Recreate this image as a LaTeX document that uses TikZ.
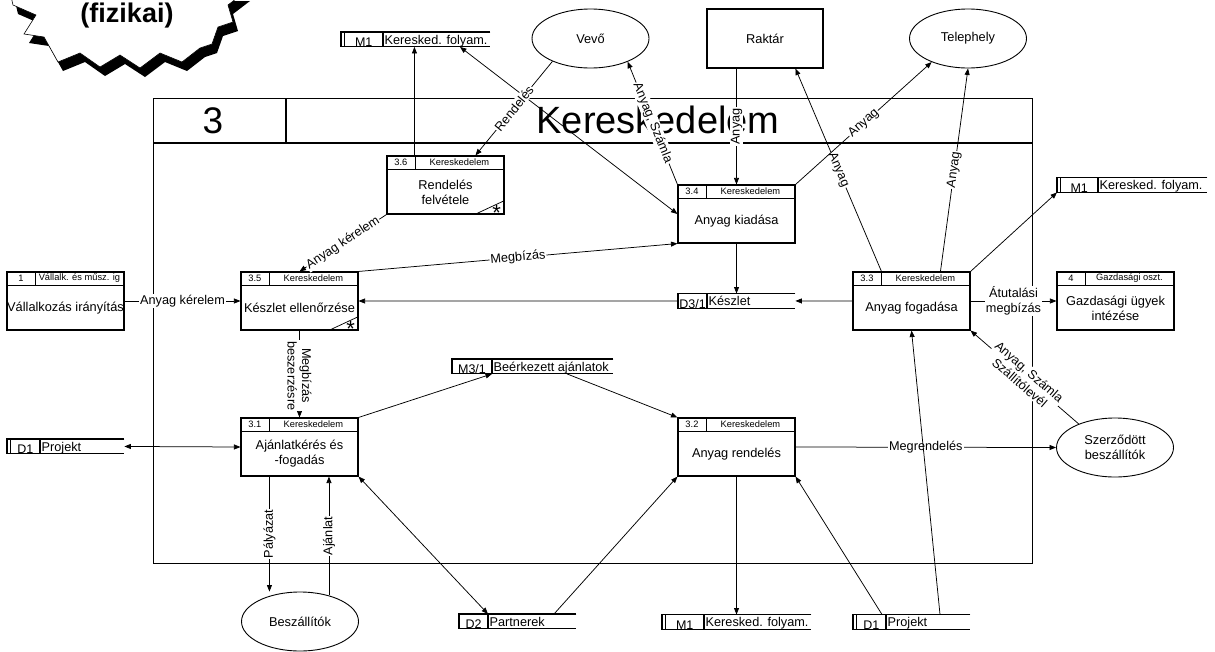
\documentclass[tikz,border=0pt]{standalone}
\usepackage{fontspec}
\setmainfont{Liberation Sans}
\usetikzlibrary{arrows.meta,calc,shapes.geometric}

% process box: name, left x, top y, id, department, body text
\newcommand\procbox[6]{%
  \node[procframe] (#1) at (#2+58.5,#3+29) {};
  \draw[boxline] ($(#1.north west)+(0,14)$) -- ($(#1.north east)+(0,14)$);
  \draw[boxline] ($(#1.north west)+(29,0)$) -- ($(#1.north west)+(29,14)$);
  \node[small] at ($(#1.north west)+(14.5,7)$) {#4};
  \node[small] at ($(#1.north west)+(73,7)$) {#5};
  \node[body] (#1t) at ($(#1.center)+(0,7)$) {#6};
}
% cut corner with asterisk
\newcommand\starcorner[1]{%
  \draw[flow] ($(#1.south east)+(-30,0)$) -- ($(#1.south east)+(0,-14)$);
  \node[font=\fontsize{22}{22}\selectfont, anchor=base, inner sep=0pt] at ($(#1.south east)+(-8,6)$) {*};
}
% data store: name, left x, top y, width, id cell width, id, label, double left edge (1/0)
\newcommand\store[8]{%
  \node[inner sep=0pt, minimum width=#4pt, minimum height=14.5pt, anchor=north west] (#1) at (#2,#3) {};
  \draw[boxline] (#1.north east) -- (#1.north west) -- (#1.south west) -- (#1.south east);
  \draw[boxline] ($(#1.north west)+(#5,0)$) -- ($(#1.south west)+(#5,0)$);
  \ifnum#8=1 \draw[boxline] ($(#1.north west)+(3.5,0)$) -- ($(#1.south west)+(3.5,0)$);\fi
  \node[anchor=base, inner sep=0pt, font=\fontsize{12.5}{14}\selectfont] at ($(#1.south west)+({(#5+3.5*#8)/2},-0.3)$) {#6};
  \node[anchor=base west, inner sep=0pt, font=\fontsize{12.7}{14}\selectfont] at ($(#1.south west)+(#5+1.5,-2.8)$) {#7};
}

\begin{document}
\begin{tikzpicture}[x=1pt,y=-1pt,
  boxline/.style={line width=1.1pt},
  flow/.style={line width=0.75pt},
  >={Triangle[length=6.5pt,width=5pt]},
  procframe/.style={draw, line width=1.1pt, minimum width=117pt, minimum height=58pt, inner sep=0pt},
  small/.style={font=\fontsize{9.3}{10}\selectfont, inner sep=0pt},
  body/.style={font=\fontsize{12.8}{15}\selectfont, align=center, inner sep=0pt},
  lbl/.style={fill=white, inner sep=1pt, font=\fontsize{12.7}{14.5}\selectfont, align=center},
  ent/.style={draw, ellipse, line width=0.9pt, minimum width=117pt, minimum height=59pt, inner sep=0pt, font=\fontsize{12.8}{15}\selectfont, align=center},
]
\useasboundingbox (0,0) rectangle (1215,651);
\clip (0,0) rectangle (1215,651);
\fill[white] (0,0) rectangle (1215,651);

% starburst title badge
\fill[black, shift={(5,9)}] (10,-8) -- (13,5) -- (36,15) -- (24,34) -- (44,37) -- (58,62) -- (80,53) -- (100,67)
  -- (120,55) -- (140,68) -- (160,53) -- (182,62) -- (200,48) -- (212,44) -- (218,27) -- (233,22) -- (228,5) -- (245,-8) -- cycle;
\filldraw[fill=white, draw=black, line width=0.6pt] (10,-8) -- (13,5) -- (36,15) -- (24,34) -- (44,37) -- (58,62) -- (80,53) -- (100,67)
  -- (120,55) -- (140,68) -- (160,53) -- (182,62) -- (200,48) -- (212,44) -- (218,27) -- (233,22) -- (228,5) -- (245,-8) -- cycle;
\node[font=\bfseries\fontsize{27}{29}\selectfont, inner sep=0pt] (fiz) at (127,16) {(fizikai)};

% process frame with header
\node[draw, line width=1.1pt, minimum width=879pt, minimum height=465pt, inner sep=0pt, anchor=north west] (frame) at (153,98) {};
\draw[boxline] ($(frame.north west)+(0,45)$) -- ($(frame.north east)+(0,45)$);
\draw[boxline] ($(frame.north west)+(133,0)$) -- ($(frame.north west)+(133,45)$);
\node[anchor=base, font=\fontsize{37}{40}\selectfont, inner sep=0pt] (ttlnum) at (213,133) {3};
\node[anchor=base, font=\fontsize{38}{40}\selectfont, inner sep=0pt] (ttl) at (658,133) {Kereskedelem};

% processes
\procbox{p36}{387}{156}{3.6}{Kereskedelem}{Rendelés\\felvétele}
\starcorner{p36}
\procbox{p34}{678}{185}{3.4}{Kereskedelem}{Anyag kiadása}
\procbox{p35}{241}{272}{3.5}{Kereskedelem}{Készlet ellenőrzése}
\starcorner{p35}
\procbox{p1}{7}{272}{1}{Vállalk. és műsz. ig}{Vállalkozás irányítás}
\procbox{p33}{853}{272}{3.3}{Kereskedelem}{Anyag fogadása}
\procbox{p4}{1057}{272}{4}{Gazdasági oszt.}{Gazdasági ügyek\\intézése}
\procbox{p31}{241}{418}{3.1}{Kereskedelem}{Ajánlatkérés és\\-fogadás}
\procbox{p32}{678}{418}{3.2}{Kereskedelem}{Anyag rendelés}

% data stores
\store{m1a}{341}{32}{149}{42}{M1}{Keresked. folyam.}{1}
\store{m1b}{1057}{177.5}{150}{41}{M1}{Keresked. folyam.}{1}
\store{d31}{678}{293.5}{117}{29}{D3/1}{Készlet}{0}
\store{d1a}{7}{439}{117}{33}{D1}{Projekt}{1}
\store{m31}{452}{359}{161}{40}{M3/1}{Beérkezett ajánlatok}{0}
\store{d2}{459}{614}{117}{29}{D2}{Partnerek}{0}
\store{m1c}{662}{614.5}{149}{42}{M1}{Keresked. folyam.}{1}
\store{d1b}{853}{614.5}{117}{33}{D1}{Projekt}{1}

% external entities
\node[ent] (vevo) at (590.5,38.5) {Vevő};
\node[ent] (tele) at (968,38.5) {Telephely};
\node[ent] (sz) at (1115,447.5) {Szerződött\\beszállítók};
\node[ent] (besz) at (300,621.5) {Beszállítók};
\node[draw, line width=1.1pt, minimum width=116pt, minimum height=59pt, inner sep=0pt, font=\fontsize{12.8}{15}\selectfont] (raktar) at (765,38.5) {Raktár};

% data flows
\coordinate (c36) at ($(p36.north west)+(28,0)$);
\draw[flow,->] (c36) -- (c36 |- m1a.south);
\draw[flow,<->] ($(m1a.south west)+(119,0)$) -- (p34.west);
\draw[flow,->] (vevo.211) -- node[lbl,sloped]{Rendelés} ($(p36.north west)+(89,0)$);
\draw[flow,->] (p34.north west) -- node[lbl,sloped]{Anyag, Számla} (vevo.328);
\draw[flow,->] (raktar.south -| p34.north) -- node[lbl,rotate=90]{Anyag} (p34.north);
\draw[flow,->] ($(p33.north west)+(29,0)$) -- node[lbl,sloped]{Anyag} ($(raktar.south west)+(89,0)$);
\draw[flow,->] (p34.north east) -- node[lbl,sloped]{Anyag} (tele.213);
\draw[flow,->] ($(p33.north west)+(88,0)$) -- node[lbl,sloped]{Anyag} (tele.south);
\draw[flow,->] (p34.south) -- (d31.north -| p34.south);
\draw[flow,->] (p33.west) -- (d31.east);
\draw[flow,->] (d31.west) -- (p35.east);
\draw[flow,->] (p35.north east) -- node[lbl,sloped]{Megbízás} (p34.south west);
\draw[flow,->] (p36.south west) -- node[lbl,sloped]{Anyag kérelem} (p35.north);
\draw[flow,->] (p1.east) -- node[lbl]{Anyag kérelem} (p35.west);
\draw[flow,->] (p33.east) -- node[lbl]{Átutalási\\megbízás} (p4.west);
\draw[flow,->] (p33.north east) -- (m1b.south west);
\draw[flow,->] (p35.south) -- node[lbl,rotate=-90,pos=0.52]{Megbízás\\beszerzésre} (p31.north);
\draw[flow,<->] (d1a.east) -- (p31.west);
\draw[flow,->] (p31.north east) -- ($(m31.south west)+(40,0)$);
\draw[flow,->] ($(m31.south west)+(115,0)$) -- (p32.north west);
\draw[flow,->] (p32.east) -- node[lbl]{Megrendelés} (sz.west);
\draw[flow,->] (sz.147) -- node[lbl,sloped]{Anyag, Számla\\Szállítólevél} (p33.south east);
\draw[flow,->] ($(d1b.north west)+(87,0)$) -- (p33.south);
\draw[flow,->] ($(d1b.north west)+(29,0)$) -- (p32.south east);
\draw[flow,->] (p32.south) -- (m1c.north -| p32.south);
\draw[flow,->] ($(d2.north west)+(95,0)$) -- (p32.south west);
\draw[flow,<->] (p31.south east) -- ($(d2.north west)+(29,0)$);
\coordinate (c31a) at ($(p31.south west)+(29,0)$);
\draw[flow,->] (c31a) -- node[lbl,rotate=90]{Pályázat} (c31a |- besz.north);
\draw[flow,->] (besz.42) -- node[lbl,rotate=90]{Ajánlat} (besz.42 |- p31.south);
\end{tikzpicture}
\end{document}
